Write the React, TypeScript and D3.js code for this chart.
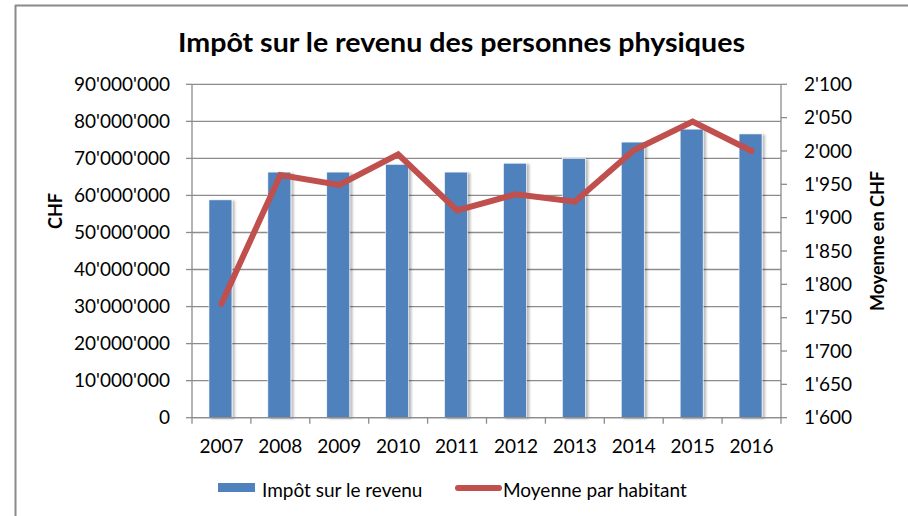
import React from "react";
import * as d3 from "d3";

const years = ["2007", "2008", "2009", "2010", "2011", "2012", "2013", "2014", "2015", "2016"];
const impotValues = [58800000, 66300000, 66300000, 68400000, 66300000, 68700000, 70000000, 74400000, 77900000, 76600000];
const moyenneValues = [1771, 1964, 1949, 1995, 1911, 1935, 1924, 2001, 2044, 2000];
const leftTicks = [0, 10000000, 20000000, 30000000, 40000000, 50000000, 60000000, 70000000, 80000000, 90000000];
const rightTicks = [1600, 1650, 1700, 1750, 1800, 1850, 1900, 1950, 2000, 2050, 2100];
const titleText = "Impôt sur le revenu des personnes physiques";
const leftAxisLabel = "CHF";
const rightAxisLabel = "Moyenne en CHF";
const legendBar = "Impôt sur le revenu";
const legendLine = "Moyenne par habitant";

const W = 908;
const H = 516;
const plot = { left: 192, right: 781, top: 84.3, bottom: 417.7 };
const FONT = "Lato, 'Open Sans', sans-serif";
const BLUE = "#4F81BD";
const RED = "#C0504D";
const GRID = "#8c8c8c";

const fmt = (v: number) => {
  const s = Math.round(v).toString();
  return s.replace(/\B(?=(\d{3})+(?!\d))/g, "'");
};

export default function App() {
  const x = d3.scaleBand<string>().domain(years).range([plot.left, plot.right]).paddingInner(0).paddingOuter(0);
  const yL = d3.scaleLinear().domain([0, 90000000]).range([plot.bottom, plot.top]);
  const yR = d3.scaleLinear().domain([1600, 2100]).range([plot.bottom, plot.top]);
  const barW = x.bandwidth() * 0.39;

  const line = d3
    .line<number>()
    .x((_, i) => (x(years[i]) as number) + x.bandwidth() / 2)
    .y((d) => yR(d));

  return (
    <svg
      width={W}
      height={H}
      style={{ position: "absolute", left: 0, top: 0, background: "#fff" }}
      xmlns="http://www.w3.org/2000/svg"
    >
      <defs>
        <filter id="shadow" x="-30%" y="-5%" width="160%" height="110%">
          <feDropShadow dx="2.5" dy="1" stdDeviation="1.2" floodColor="#000" floodOpacity="0.28" />
        </filter>
      </defs>
      <rect x={0} y={0} width={W} height={H} fill="#fff" />
      {/* frame */}
      <line x1={15.5} y1={5} x2={15.5} y2={H} stroke="#8a8a8a" strokeWidth={2} />
      <line x1={15} y1={5.5} x2={W} y2={5.5} stroke="#8a8a8a" strokeWidth={2} />

      {/* title */}
      <text
        x={461.5}
        y={52}
        textAnchor="middle"
        fontFamily={FONT}
        fontWeight="bold"
        fontSize={27}
        fill="#000"
        textLength={567}
        lengthAdjust="spacingAndGlyphs"
      >
        {titleText}
      </text>

      {/* gridlines */}
      {leftTicks.map((t) => (
        <line key={"g" + t} x1={plot.left} x2={plot.right} y1={yL(t)} y2={yL(t)} stroke={GRID} strokeWidth={1.3} />
      ))}

      {/* axes */}
      <line x1={plot.left} x2={plot.left} y1={plot.top} y2={plot.bottom} stroke={GRID} strokeWidth={1.3} />
      <line x1={plot.right} x2={plot.right} y1={plot.top} y2={plot.bottom} stroke={GRID} strokeWidth={1.3} />
      {leftTicks.map((t) => (
        <g key={"lt" + t}>
          <line x1={plot.left - 6} x2={plot.left} y1={yL(t)} y2={yL(t)} stroke={GRID} strokeWidth={1.3} />
          <text x={170} y={yL(t)} dy="0.35em" textAnchor="end" fontFamily={FONT} fontSize={19} fill="#000">
            {fmt(t)}
          </text>
        </g>
      ))}
      {rightTicks.map((t) => (
        <g key={"rt" + t}>
          <line x1={plot.right} x2={plot.right + 6} y1={yR(t)} y2={yR(t)} stroke={GRID} strokeWidth={1.3} />
          <text x={804} y={yR(t)} dy="0.35em" textAnchor="start" fontFamily={FONT} fontSize={19} fill="#000">
            {fmt(t)}
          </text>
        </g>
      ))}

      {/* bars */}
      {impotValues.map((v, i) => {
        const cx = (x(years[i]) as number) + x.bandwidth() / 2;
        return (
          <rect
            key={"b" + i}
            x={cx - barW / 2 - 1}
            y={yL(v)}
            width={barW}
            height={yL(0) - yL(v)}
            fill={BLUE}
            stroke="#ffffff"
            strokeWidth={0.6}
            filter="url(#shadow)"
          />
        );
      })}

      {/* x axis */}
      <line x1={plot.left} x2={plot.right} y1={plot.bottom} y2={plot.bottom} stroke={GRID} strokeWidth={1.3} />
      {years.map((yv) => (
        <line
          key={"xt" + yv}
          x1={x(yv) as number}
          x2={x(yv) as number}
          y1={plot.bottom}
          y2={plot.bottom + 6}
          stroke={GRID}
          strokeWidth={1.3}
        />
      ))}
      <line x1={plot.right} x2={plot.right} y1={plot.bottom} y2={plot.bottom + 6} stroke={GRID} strokeWidth={1.3} />
      {years.map((yv) => (
        <text
          key={"xl" + yv}
          x={(x(yv) as number) + x.bandwidth() / 2}
          y={453}
          textAnchor="middle"
          fontFamily={FONT}
          fontSize={19}
          fill="#000"
        >
          {yv}
        </text>
      ))}

      {/* line */}
      <path
        d={line(moyenneValues) || ""}
        fill="none"
        stroke={RED}
        strokeWidth={6}
        strokeLinecap="round"
        strokeLinejoin="miter"
      />

      {/* axis titles */}
      <text
        transform={`translate(62,211) rotate(-90)`}
        textAnchor="middle"
        fontFamily={FONT}
        fontWeight="bold"
        fontSize={18}
        fill="#000"
      >
        {leftAxisLabel}
      </text>
      <text
        transform={`translate(884,241) rotate(-90)`}
        textAnchor="middle"
        fontFamily={FONT}
        fontWeight="bold"
        fontSize={18}
        fill="#000"
      >
        {rightAxisLabel}
      </text>

      {/* legend */}
      <rect x={218} y={483} width={37} height={9} fill={BLUE} />
      <text x={262} y={497} fontFamily={FONT} fontSize={19} fill="#000">
        {legendBar}
      </text>
      <line x1={458} x2={499} y1={488} y2={488} stroke={RED} strokeWidth={6} strokeLinecap="round" />
      <text x={503} y={497} fontFamily={FONT} fontSize={19} fill="#000">
        {legendLine}
      </text>
    </svg>
  );
}
